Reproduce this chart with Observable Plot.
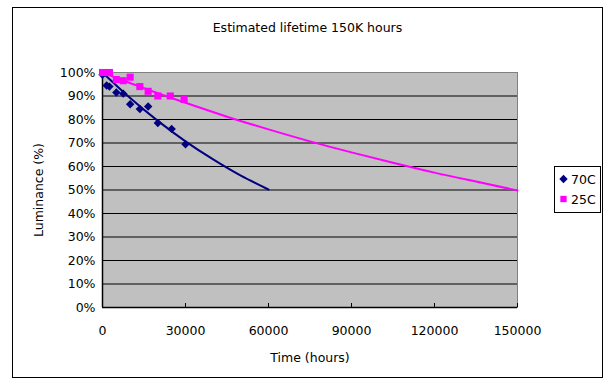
<!DOCTYPE html>
<html>
<head>
<meta charset="utf-8">
<script src="https://cdn.jsdelivr.net/npm/d3@7"></script>
<script src="https://cdn.jsdelivr.net/npm/@observablehq/plot@0.6"></script>
<style>
  html, body { margin: 0; padding: 0; background: #fff; }
  #wrap { position: relative; width: 615px; height: 390px; font-family: "DejaVu Sans", sans-serif; }
  #border { position: absolute; left: 12px; top: 7px; width: 591px; height: 371px; border: 1.5px solid #000; box-sizing: border-box; }
  #title { position: absolute; left: 0; width: 615px; top: 20px; text-align: center; font-size: 12.5px; color: #000; }
  #legend { position: absolute; left: 554px; top: 166px; width: 47px; height: 47px; border: 1px solid #000; box-sizing: border-box; font-size: 12.5px; }
  .item { position: absolute; left: 4px; display: flex; align-items: center; }
  .item span { margin-left: 3px; }
  #chart { position: absolute; left: 0; top: 0; }
</style>
</head>
<body>
<div id="wrap">
  <div id="chart"></div>
  <div id="border"></div>
  <div id="title">Estimated lifetime 150K hours</div>
  <div id="legend"></div>
</div>
<script>
// Measured points, 70C
const hours70 = [0, 1500, 2500, 5000, 7500, 10000, 13500, 16500, 20000, 25000, 30000];
const lum70   = [99, 94.5, 94, 91.5, 91, 86.5, 84.5, 85.5, 78.5, 76, 69.5];
// Measured points, 25C
const hours25 = [0, 2500, 5000, 7500, 10000, 13500, 16500, 20000, 24500, 29500];
const lum25   = [100, 100, 97, 96.5, 98, 94, 92, 90, 90, 88.5];
// Trend line, 70C
const trendHours70 = [0, 10000, 20000, 30000, 40000, 50000, 60000];
const trendLum70   = [100, 89.1, 79.4, 70.7, 63.0, 56.1, 50.2];
// Trend line, 25C
const trendHours25 = [0, 15000, 30000, 45000, 60000, 75000, 90000, 105000, 120000, 135000, 150000];
const trendLum25   = [100, 93.3, 87.1, 81.2, 75.8, 70.7, 66.0, 61.6, 57.4, 53.6, 49.8];
// Axis ticks
const xTicks = [0, 30000, 60000, 90000, 120000, 150000];
const yTicks = [0, 10, 20, 30, 40, 50, 60, 70, 80, 90, 100];
const seriesNames = ["70C", "25C"];
const seriesColors = ["#000080", "#ff00ff"];

const pts70 = hours70.map((h, i) => ({h, l: lum70[i]}));
const pts25 = hours25.map((h, i) => ({h, l: lum25[i]}));
const tr70 = trendHours70.map((h, i) => ({h, l: trendLum70[i]}));
const tr25 = trendHours25.map((h, i) => ({h, l: trendLum25[i]}));

const chart = Plot.plot({
  width: 615,
  height: 390,
  marginLeft: 102,
  marginRight: 98,
  marginTop: 72,
  marginBottom: 83,
  style: {fontFamily: "DejaVu Sans, sans-serif", fontSize: "12.5px", color: "#000", background: "transparent"},
  x: {domain: [0, 150000]},
  y: {domain: [0, 100]},
  marks: [
    Plot.frame({fill: "#c0c0c0", stroke: "#808080"}),
    Plot.ruleY(yTicks.filter(d => d > 0 && d < 100), {stroke: "#000", strokeWidth: 1}),
    Plot.ruleY([0], {stroke: "#000", strokeWidth: 1.5}),
    Plot.ruleX([0], {stroke: "#000", strokeWidth: 1.5}),
    Plot.ruleX(xTicks.filter(d => d > 0), {y1: 0, y2: 1.7, stroke: "#000"}),
    Plot.axisX(xTicks, {tickSize: 0, tickPadding: 19, tickFormat: d => String(d), label: "Time (hours)", labelAnchor: "center", labelArrow: "none", labelOffset: 54, fontSize: 12.5}),
    Plot.axisY(yTicks, {tickSize: 0, tickPadding: 7, tickFormat: d => d + "%", label: "Luminance (%)", labelAnchor: "center", labelArrow: "none", labelOffset: 68, fontSize: 12.5}),
    Plot.line(tr25, {x: "h", y: "l", stroke: seriesColors[1], strokeWidth: 2, curve: "natural"}),
    Plot.line(tr70, {x: "h", y: "l", stroke: seriesColors[0], strokeWidth: 2, curve: "natural"}),
    Plot.dot(pts70, {x: "h", y: "l", symbol: "diamond2", r: 3.8, fill: seriesColors[0], stroke: "none"}),
    Plot.dot(pts25, {x: "h", y: "l", symbol: "square", r: 4, fill: seriesColors[1], stroke: "none"})
  ]
});
document.getElementById("chart").appendChild(chart);

// Legend
const legend = document.getElementById("legend");
seriesNames.forEach((name, i) => {
  const item = document.createElement("div");
  item.className = "item";
  item.style.top = (4 + i * 20) + "px";
  const sw = d3.create("svg").attr("width", 9).attr("height", 16);
  sw.append("path")
    .attr("transform", "translate(4.5,8)")
    .attr("d", d3.symbol(i === 0 ? d3.symbolDiamond2 : d3.symbolSquare, i === 0 ? 45 : 40)())
    .attr("fill", seriesColors[i]);
  item.appendChild(sw.node());
  const t = document.createElement("span");
  t.textContent = name;
  item.appendChild(t);
  legend.appendChild(item);
});
</script>
</body>
</html>
